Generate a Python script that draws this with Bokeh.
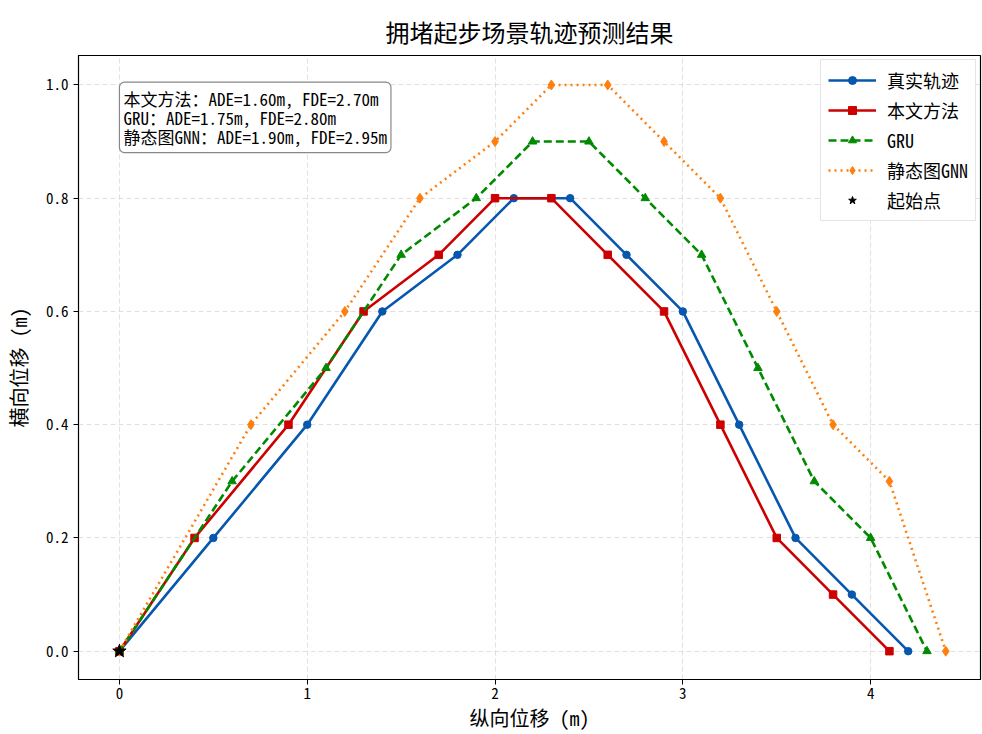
from bokeh.plotting import figure
from bokeh.models import Range1d, Label, Legend, LegendItem, FixedTicker, PrintfTickFormatter
from bokeh.embed import file_html
from bokeh.resources import INLINE

# ---- data ----
true_x = [0, 0.5, 1.0, 1.4, 1.8, 2.1, 2.4, 2.7, 3.0, 3.3, 3.6, 3.9, 4.2]
true_y = [0, 0.2, 0.4, 0.6, 0.7, 0.8, 0.8, 0.7, 0.6, 0.4, 0.2, 0.1, 0.0]
ours_x = [0, 0.4, 0.9, 1.3, 1.7, 2.0, 2.3, 2.6, 2.9, 3.2, 3.5, 3.8, 4.1]
ours_y = [0, 0.2, 0.4, 0.6, 0.7, 0.8, 0.8, 0.7, 0.6, 0.4, 0.2, 0.1, 0.0]
gru_x = [0, 0.6, 1.1, 1.5, 1.9, 2.2, 2.5, 2.8, 3.1, 3.4, 3.7, 4.0, 4.3]
gru_y = [0, 0.3, 0.5, 0.7, 0.8, 0.9, 0.9, 0.8, 0.7, 0.5, 0.3, 0.2, 0.0]
gnn_x = [0, 0.7, 1.2, 1.6, 2.0, 2.3, 2.6, 2.9, 3.2, 3.5, 3.8, 4.1, 4.4]
gnn_y = [0, 0.4, 0.6, 0.8, 0.9, 1.0, 1.0, 0.9, 0.8, 0.6, 0.4, 0.3, 0.0]
start_x = [0]
start_y = [0]
x_ticks = [0, 1, 2, 3, 4]
y_ticks = [0.0, 0.2, 0.4, 0.6, 0.8, 1.0]
labels = ["真实轨迹", "本文方法", "GRU", "静态图GNN", "起始点"]
metrics_text = "本文方法：ADE=1.60m, FDE=2.70m\nGRU：ADE=1.75m, FDE=2.80m\n静态图GNN：ADE=1.90m, FDE=2.95m"
title_text = "拥堵起步场景轨迹预测结果"
xlabel = "纵向位移 (m)"
ylabel = "横向位移 (m)"

FONT = "'Noto Sans Mono CJK SC', 'Noto Sans CJK SC', monospace"

p = figure(width=982, height=734, output_backend="svg", toolbar_location=None,
           x_range=Range1d(-0.218, 4.585), y_range=Range1d(-0.05, 1.052),
           min_border_left=77, min_border_right=2, min_border_top=55, min_border_bottom=55,
           title=title_text)

p.title.align = "center"
p.title.text_font = FONT
p.title.text_font_size = "24px"
p.title.text_font_style = "normal"
p.title.text_color = "black"
p.title.offset = 0
p.title.standoff = 14

p.outline_line_color = "black"
p.outline_line_width = 1.2
p.background_fill_color = "white"

for ax in (p.xaxis, p.yaxis):
    ax.axis_label_text_font = FONT
    ax.axis_label_text_font_size = "20px"
    ax.axis_label_text_font_style = "normal"
    ax.axis_label_text_color = "black"
    ax.major_label_text_font = FONT
    ax.major_label_text_font_size = "15px"
    ax.major_label_text_color = "black"
    ax.major_tick_out = 5
    ax.major_tick_in = 0
    ax.minor_tick_out = 0
    ax.minor_tick_in = 0
    ax.axis_line_color = "black"
    ax.major_tick_line_color = "black"

p.xaxis.axis_label = xlabel
p.yaxis.axis_label = ylabel
p.yaxis.axis_label_standoff = 10
p.xaxis.axis_label_standoff = 1
p.xaxis.major_label_standoff = 3
p.xaxis.ticker = FixedTicker(ticks=x_ticks)
p.yaxis.ticker = FixedTicker(ticks=y_ticks)
p.yaxis.formatter = PrintfTickFormatter(format="%.1f")

p.grid.grid_line_color = "#cccccc"
p.grid.grid_line_dash = "5 3"
p.grid.grid_line_alpha = 0.6

blue, red, green, orange = "#0657ad", "#cc0000", "#008a00", "#ff7f0e"

r1l = p.line(true_x, true_y, line_color=blue, line_width=2.6)
r1m = p.scatter(true_x, true_y, marker="circle", size=7.5, fill_color=blue, line_color=blue)
r2l = p.line(ours_x, ours_y, line_color=red, line_width=2.6)
r2m = p.scatter(ours_x, ours_y, marker="square", size=7.5, fill_color=red, line_color=red)
r3l = p.line(gru_x, gru_y, line_color=green, line_width=2.6, line_dash="8 4")
r3m = p.scatter(gru_x, gru_y, marker="triangle", size=8.5, fill_color=green, line_color=green)
r4l = p.line(gnn_x, gnn_y, line_color=orange, line_width=2.6, line_dash="2 4")
r4m = p.scatter(gnn_x, gnn_y, marker="diamond", size=10, fill_color=orange, line_color=orange)
r5 = p.scatter(start_x, start_y, marker="star", size=14, fill_color="black", line_color="black")

legend = Legend(items=[
    LegendItem(label=labels[0], renderers=[r1l, r1m]),
    LegendItem(label=labels[1], renderers=[r2l, r2m]),
    LegendItem(label=labels[2], renderers=[r3l, r3m]),
    LegendItem(label=labels[3], renderers=[r4l, r4m]),
    LegendItem(label=labels[4], renderers=[r5]),
], location="top_right")
legend.label_text_font = FONT
legend.label_text_font_size = "18px"
legend.label_text_color = "black"
legend.border_line_color = "#cccccc"
legend.border_line_width = 1
legend.background_fill_alpha = 0.9
legend.glyph_width = 48
legend.glyph_height = 20
legend.label_standoff = 11
legend.spacing = 4
legend.padding = 7
legend.margin = 4
p.add_layout(legend)

lab = Label(x=0.0, y=1.005, text=metrics_text, text_font=FONT, text_font_size="17px",
            text_color="black", anchor="top_left", text_line_height=0.75,
            background_fill_color="white", background_fill_alpha=0.9,
            border_line_color="#888888", border_line_width=1.2, padding=4, border_radius=5)
p.add_layout(lab)

open("out.html", "w").write(file_html(p, INLINE))
